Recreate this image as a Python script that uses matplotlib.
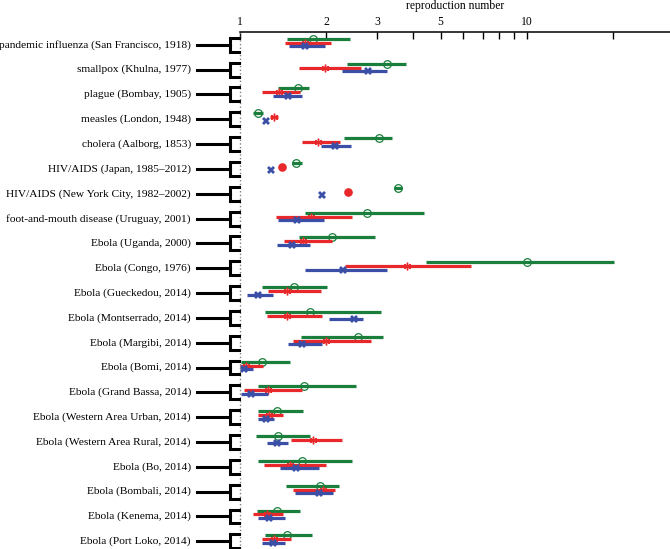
import numpy as np
import matplotlib.pyplot as plt
from matplotlib.transforms import blended_transform_factory
from matplotlib.ticker import NullFormatter

plt.rcParams['font.family'] = ['Liberation Serif', 'DejaVu Serif']

outbreaks = [
    'pandemic influenza (San Francisco, 1918)',
    'smallpox (Khulna, 1977)',
    'plague (Bombay, 1905)',
    'measles (London, 1948)',
    'cholera (Aalborg, 1853)',
    'HIV/AIDS (Japan, 1985\u20132012)',
    'HIV/AIDS (New York City, 1982\u20132002)',
    'foot-and-mouth disease (Uruguay, 2001)',
    'Ebola (Uganda, 2000)',
    'Ebola (Congo, 1976)',
    'Ebola (Gueckedou, 2014)',
    'Ebola (Montserrado, 2014)',
    'Ebola (Margibi, 2014)',
    'Ebola (Bomi, 2014)',
    'Ebola (Grand Bassa, 2014)',
    'Ebola (Western Area Urban, 2014)',
    'Ebola (Western Area Rural, 2014)',
    'Ebola (Bo, 2014)',
    'Ebola (Bombali, 2014)',
    'Ebola (Kenema, 2014)',
    'Ebola (Port Loko, 2014)',
]

nan = np.nan
# green: open circles
green_est = [1.80, 3.25, 1.59, 1.16, 3.05, 1.57, 3.55, 2.77, 2.09, 10.0, 1.54,
             1.75, 2.58, 1.19, 1.67, 1.35, 1.36, 1.64, 1.90, 1.35, 1.46]
green_lo = [1.46, 2.36, 1.36, 1.11, 2.30, 1.52, 3.43, 1.68, 1.61, 4.45, 1.19,
            1.22, 1.63, 1.01, 1.16, 1.16, 1.14, 1.16, 1.45, 1.15, 1.22]
green_hi = [2.42, 3.79, 1.74, 1.20, 3.39, 1.64, 3.67, 4.39, 2.95, 20.1, 2.01,
            3.10, 3.15, 1.49, 2.54, 1.66, 1.75, 2.46, 2.21, 1.62, 1.78]
# red: asterisks (filled dot where no interval)
red_est = [1.68, 1.98, 1.37, 1.31, 1.87, 1.40, 2.38, 1.77, 1.66, 3.82, 1.46,
           1.46, 1.99, 1.05, 1.25, 1.26, 1.80, 1.49, 1.95, 1.24, 1.31]
red_lo = [1.44, 1.61, 1.19, 1.27, 1.64, nan, nan, 1.34, 1.42, 2.32, 1.25,
          1.24, 1.53, 1.00, 1.03, 1.16, 1.51, 1.21, 1.53, 1.11, 1.19]
red_hi = [2.08, 2.64, 1.62, 1.36, 2.23, nan, nan, 2.46, 2.09, 6.38, 1.92,
          1.93, 2.86, 1.20, 1.64, 1.41, 2.27, 1.99, 2.14, 1.41, 1.51]
# blue: crosses
blue_est = [1.68, 2.79, 1.47, 1.23, 2.14, 1.28, 1.93, 1.58, 1.52, 2.28, 1.16,
            2.50, 1.64, 1.03, 1.09, 1.23, 1.35, 1.57, 1.89, 1.26, 1.30]
blue_lo = [1.48, 2.27, 1.30, nan, 1.92, nan, nan, 1.36, 1.35, 1.68, 1.06,
           2.04, 1.47, 1.00, 1.01, 1.16, 1.24, 1.38, 1.55, 1.16, 1.19]
blue_hi = [1.98, 3.25, 1.64, nan, 2.44, nan, nan, 1.96, 1.75, 3.25, 1.30,
           2.68, 1.93, 1.11, 1.25, 1.31, 1.47, 1.89, 2.11, 1.43, 1.43]

green = '#1a7f3c'
red = '#e8282b'
blue = '#3b4fa6'

W, H = 670, 549
fig = plt.figure(figsize=(W / 100, H / 100), dpi=100)
ax = fig.add_axes([240 / W, 0, 430 / W, 1 - 32 / H])
ax.set_xscale('log')
ax.set_xlim(1, 10 ** (430 / 287))
ax.set_ylim(20.31, -0.515)

for i in range(len(outbreaks)):
    yg, yr, yb = i - 0.24, i - 0.08, i + 0.06
    ax.plot([green_lo[i], green_hi[i]], [yg, yg], color=green, lw=2.3, solid_capstyle='butt')
    ax.plot(green_est[i], yg, 'o', mfc='none', mec=green, ms=5.5, mew=0.9)
    if np.isnan(red_lo[i]):
        ax.plot(red_est[i], yr, 'o', color=red, ms=5.2)
    else:
        ax.plot([red_lo[i], red_hi[i]], [yr, yr], color=red, lw=2.3, solid_capstyle='butt')
        ax.plot(red_est[i], yr, marker=(6, 2, 0), color=red, ms=5.5, mew=1)
    if not np.isnan(blue_lo[i]):
        ax.plot([blue_lo[i], blue_hi[i]], [yb, yb], color=blue, lw=2.3, solid_capstyle='butt')
    ax.plot(blue_est[i], yb, 'X', color=blue, ms=6, mew=0)

ax.axvline(1, color='gray', ls=':', lw=1, clip_on=False)

for s in ['left', 'right', 'bottom']:
    ax.spines[s].set_visible(False)
ax.spines['top'].set_linewidth(1.1)
ax.set_yticks([])
ax.xaxis.tick_top()
ax.xaxis.set_label_position('top')
ax.set_xticks([1, 2, 3, 5, 10])
ax.set_xticklabels(['1', '2', '3', '5', '10'])
ax.set_xticks([4, 6, 7, 8, 9, 20], minor=True)
ax.xaxis.set_minor_formatter(NullFormatter())
ax.tick_params(axis='x', which='both', direction='in', length=5, width=1,
               top=True, bottom=False, labelsize=8.4, pad=3)
ax.set_xlabel('reproduction number', fontsize=8.4, labelpad=5)

# tree-like brackets and labels on the left
tr = blended_transform_factory(fig.transFigure, ax.transData)
for i, name in enumerate(outbreaks):
    ax.plot([197 / W, 230 / W], [i, i], color='k', lw=2.2, transform=tr, clip_on=False)
    ax.plot([239 / W, 230 / W, 230 / W, 239 / W], [i - 0.28, i - 0.28, i + 0.28, i + 0.28],
            color='k', lw=2.2, transform=tr, clip_on=False, solid_joinstyle='miter')
    ax.text(191 / W, i, name, transform=tr, ha='right', va='center', fontsize=8.2)

fig.savefig('out.png', dpi=100)
